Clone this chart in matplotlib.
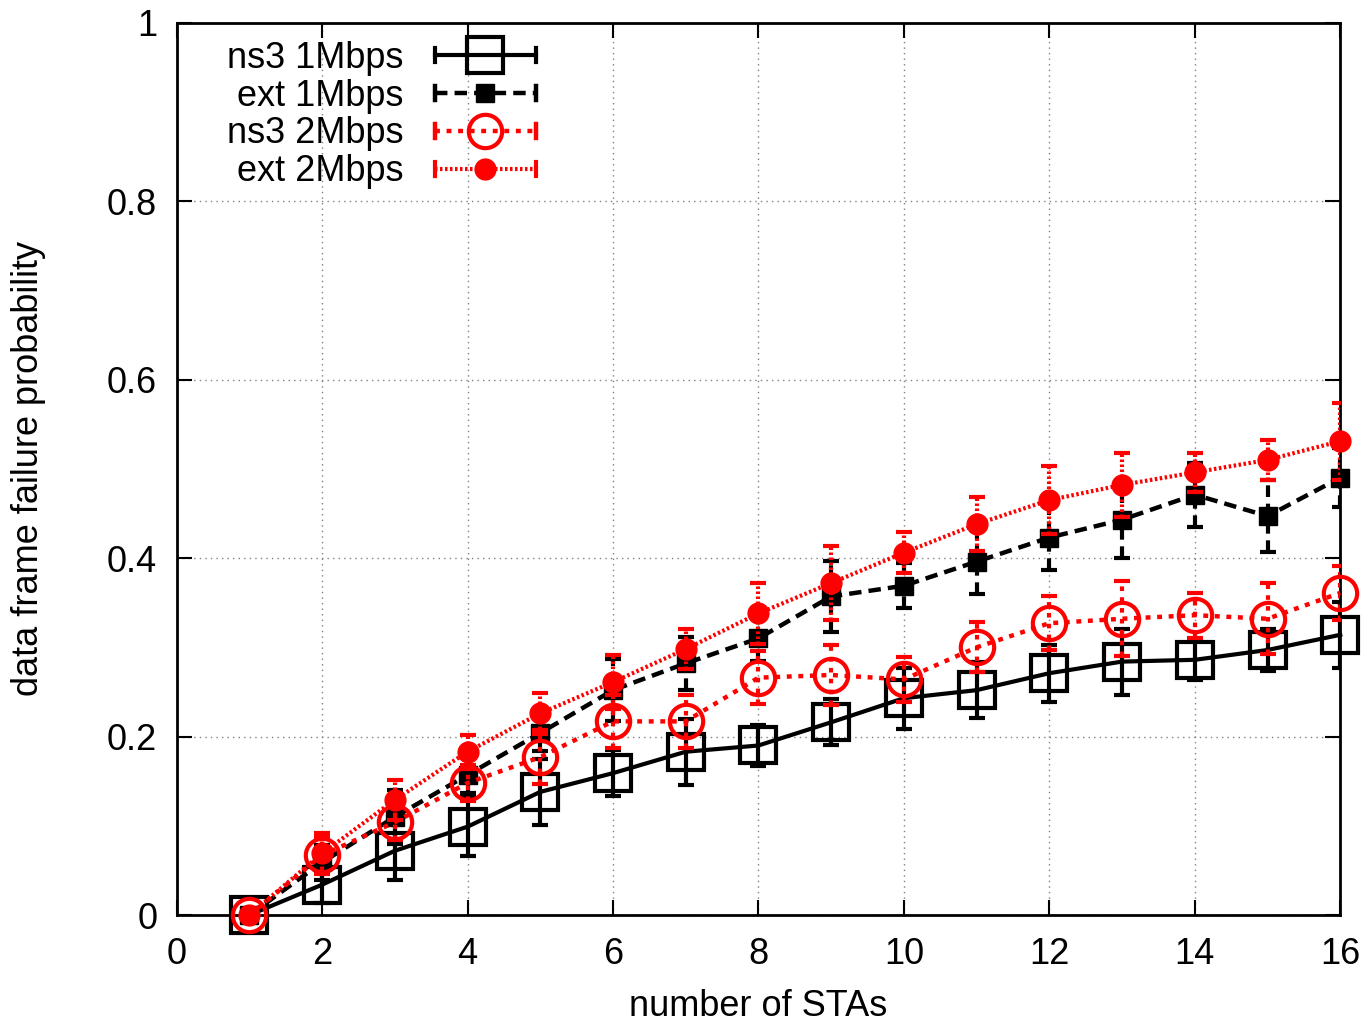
import matplotlib
matplotlib.use("Agg")
import matplotlib.pyplot as plt
from matplotlib.legend_handler import HandlerBase
from matplotlib.lines import Line2D

plt.rcParams['font.family'] = ['Liberation Sans', 'DejaVu Sans']

stas = [1, 2, 3, 4, 5, 6, 7, 8, 9, 10, 11, 12, 13, 14, 15, 16]

ns3_1m = [0, 0.034, 0.072, 0.099, 0.138, 0.159, 0.183, 0.19, 0.216, 0.243, 0.252,
          0.271, 0.284, 0.286, 0.297, 0.314]
ns3_1m_err = [0, 0.02, 0.033, 0.033, 0.037, 0.026, 0.037, 0.023, 0.026, 0.034, 0.031,
              0.032, 0.037, 0.023, 0.024, 0.037]

ext_1m = [0, 0.059, 0.11, 0.157, 0.204, 0.252, 0.282, 0.31, 0.357, 0.369, 0.396,
          0.423, 0.443, 0.471, 0.447, 0.49]
ext_1m_err = [0, 0.02, 0.03, 0.02, 0.02, 0.035, 0.03, 0.025, 0.04, 0.025, 0.036,
              0.036, 0.043, 0.036, 0.04, 0.033]

ns3_2m = [0, 0.067, 0.104, 0.148, 0.177, 0.217, 0.217, 0.266, 0.269, 0.264, 0.30,
          0.327, 0.332, 0.336, 0.332, 0.361]
ns3_2m_err = [0, 0.02, 0.02, 0.02, 0.03, 0.03, 0.03, 0.03, 0.034, 0.025, 0.028,
              0.03, 0.042, 0.025, 0.04, 0.03]

ext_2m = [0, 0.069, 0.129, 0.183, 0.226, 0.261, 0.298, 0.338, 0.372, 0.406, 0.438,
          0.465, 0.482, 0.496, 0.51, 0.531]
ext_2m_err = [0, 0.023, 0.022, 0.019, 0.023, 0.03, 0.022, 0.034, 0.041, 0.023, 0.03,
              0.038, 0.036, 0.022, 0.022, 0.043]


class ErrHandler(HandlerBase):
    # gnuplot style key: line with marker in the middle and caps at both ends
    def create_artists(self, legend, orig_handle, xdescent, ydescent,
                       width, height, fontsize, trans):
        ln = orig_handle.lines[0]
        y = height / 2 - ydescent
        x0, x1 = -xdescent, width - xdescent
        line = Line2D([x0, x1], [y, y])
        line.update_from(ln)
        line.set_marker('None')
        mk = Line2D([(x0 + x1) / 2], [y])
        mk.update_from(ln)
        mk.set_linestyle('None')
        arts = [line, mk]
        for xc in (x0, x1):
            cap = Line2D([xc, xc], [y - 5, y + 5], color=ln.get_color(),
                         lw=ln.get_linewidth())
            arts.append(cap)
        for a in arts:
            a.set_transform(trans)
        return arts


fig = plt.figure(figsize=(13.69, 10.27), dpi=100)
ax = fig.add_axes([0.129, 0.109, 0.85, 0.869])

# ns3 1Mbps
eb1 = ax.errorbar(stas, ns3_1m, yerr=ns3_1m_err, color='black', lw=3, ls='-',
                  marker='s', ms=26, mfc='none', mew=3, capsize=6, capthick=3,
                  elinewidth=3, label='ns3 1Mbps', zorder=3)

# ext 1Mbps
eb2 = ax.errorbar(stas, ext_1m, yerr=ext_1m_err, color='black', lw=3.2, ls='--',
                  dashes=(2.8, 1.6), marker='s', ms=13, mfc='black', capsize=6,
                  capthick=3, elinewidth=3, label='ext 1Mbps', zorder=4)
eb2[2][0].set_linestyle((0, (2.8, 1.6)))

# ns3 2Mbps
eb3 = ax.errorbar(stas, ns3_2m, yerr=ns3_2m_err, color='red', lw=3.2, ls=':',
                  dashes=(1.1, 1.5), marker='o', ms=24, mfc='none', mew=3,
                  capsize=6, capthick=3, elinewidth=3, label='ns3 2Mbps', zorder=5)
eb3[2][0].set_linestyle((0, (1.1, 1.5)))

# ext 2Mbps
eb4 = ax.errorbar(stas, ext_2m, yerr=ext_2m_err, color='red', lw=3, ls=':',
                  dashes=(0.6, 0.6), marker='o', ms=15, mfc='red', mec='red',
                  capsize=6, capthick=3, elinewidth=3, label='ext 2Mbps', zorder=6)
eb4[2][0].set_linestyle((0, (0.6, 0.6)))

for eb in (eb1, eb2, eb3, eb4):
    eb.lines[0].set_clip_on(False)

ax.set_xlim(0, 16)
ax.set_ylim(0, 1)
ax.set_xticks(range(0, 17, 2))
ax.set_yticks([0, 0.2, 0.4, 0.6, 0.8, 1])
ax.set_yticklabels(['0', '0.2', '0.4', '0.6', '0.8', '1'])
ax.tick_params(direction='in', length=11, width=1.5, top=True, right=True,
               labelsize=26)
ax.tick_params(axis='x', pad=16)
ax.tick_params(axis='y', pad=14)
ax.grid(True, color='gray', ls=(0, (1, 3)), lw=1)
for s in ax.spines.values():
    s.set_linewidth(2)

ax.set_xlabel('number of STAs', fontsize=26, labelpad=12)
ax.set_ylabel('data frame failure probability', fontsize=26, labelpad=44)

handler = ErrHandler()
leg = ax.legend(handles=[eb1, eb2, eb3, eb4], loc='upper left',
                bbox_to_anchor=(0.025, 1.004), frameon=False,
                markerfirst=False, fontsize=26, handlelength=2.8,
                labelspacing=0.08, handletextpad=0.85, borderaxespad=0.2,
                handler_map={eb1: handler, eb2: handler, eb3: handler, eb4: handler})

fig.savefig('out.png', dpi=100)
